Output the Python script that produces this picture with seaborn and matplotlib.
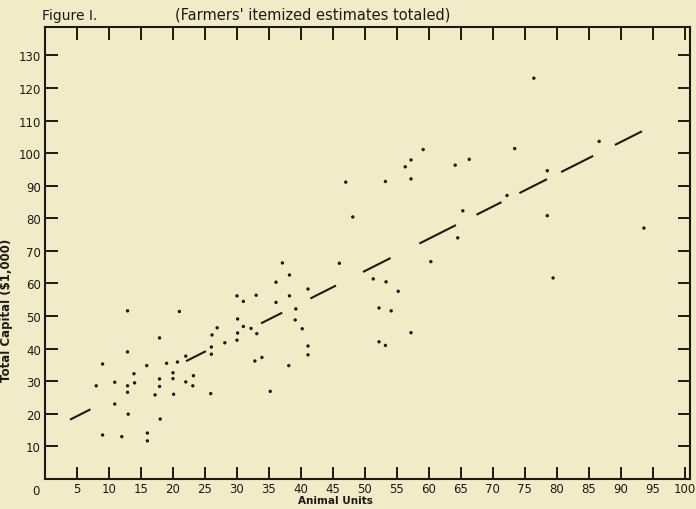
import numpy as np
import pandas as pd
import matplotlib
matplotlib.use("Agg")
import matplotlib.pyplot as plt
import seaborn as sns

"""
Figure 1 - total capital vs animal units
(values read off the scanned chart)
"""
animal_units = [
    8.0, 9.0, 9.0, 10.9, 10.9, 12.0, 12.9, 12.9, 12.9, 12.9,
    13.0, 13.9, 14.0, 15.9, 16.0, 16.0, 17.2, 17.9, 17.9, 17.9,
    18.0, 19.0, 20.0, 20.0, 20.1, 20.7, 21.0, 22.0, 22.0, 23.2,
    23.1, 25.9, 26.1, 26.0, 26.0, 26.9, 28.1, 30.0, 31.0, 33.0,
    30.1, 31.0, 32.2, 33.1, 30.1, 30.0, 32.8, 33.9, 35.2, 36.1,
    36.1, 37.1, 38.2, 38.2, 38.1, 39.2, 39.1, 40.2, 41.1, 41.1,
    41.1, 46.0, 47.0, 48.1, 51.3, 53.3, 55.2, 52.2, 54.1, 57.2,
    52.2, 53.2, 53.2, 56.3, 57.2, 57.2, 59.1, 60.3, 64.1, 66.3,
    73.4, 65.3, 64.5, 72.2, 78.5, 78.5, 79.4, 86.6, 93.6, 76.4,
]
total_capital = [
    28.6, 35.3, 13.5, 29.7, 23.0, 13.0, 51.6, 39.0, 28.6, 26.6,
    19.9, 32.3, 29.5, 34.8, 14.1, 11.7, 25.8, 43.3, 30.7, 28.4,
    18.4, 35.5, 32.6, 30.8, 26.0, 35.9, 51.4, 37.7, 29.8, 31.7,
    28.6, 26.2, 44.2, 40.5, 38.3, 46.4, 41.8, 56.2, 54.5, 56.4,
    49.1, 46.8, 46.2, 44.6, 44.8, 42.6, 36.2, 37.3, 26.9, 60.4,
    54.2, 66.3, 62.6, 56.2, 34.8, 52.2, 48.8, 46.1, 58.3, 40.8,
    38.1, 66.2, 91.1, 80.4, 61.4, 60.5, 57.6, 52.5, 51.6, 44.9,
    42.1, 41.0, 91.3, 95.8, 97.9, 92.1, 101.1, 66.7, 96.3, 98.1,
    101.4, 82.3, 74.0, 87.0, 94.6, 80.8, 61.7, 103.6, 77.0, 123.0,
]

# fitted line, as drawn (end points)
fit_x = [3.9, 93.3]
fit_y = [18.2, 106.7]

x_ticks = list(range(0, 101, 5))
y_ticks = list(range(10, 131, 10))

paper = "#f3ebc7"
ink = "#1c1a17"

sns.set_theme(style="ticks", rc={
    "figure.facecolor": paper,
    "axes.facecolor": paper,
    "axes.edgecolor": ink,
    "text.color": ink,
    "xtick.color": ink,
    "ytick.color": ink,
    "axes.labelcolor": ink,
})
plt.rcParams["font.family"] = ["DejaVu Sans"]
plt.rcParams["lines.scale_dashes"] = False

df = pd.DataFrame({"Animal Units": animal_units, "Total Capital": total_capital})

fig = plt.figure(figsize=(6.96, 5.10), dpi=100)
ax = fig.add_axes([45 / 696, 30 / 510, 645 / 696, 452 / 510])

sns.scatterplot(data=df, x="Animal Units", y="Total Capital", s=6,
                color=ink, edgecolor="none", ax=ax, legend=False)

# hand drawn dashes skip the point clouds, so pattern is uneven (x units -> pt)
unit = 5.17
dash_units = [3.2, 14.9, 3.1, 8.6, 3.3, 4.4, 4.0, 4.2, 4.3, 4.5,
              5.7, 3.2, 3.9, 2.8, 4.3, 2.2, 5.0, 3.4, 4.4, 10.0]
ax.plot(fit_x, fit_y, color=ink, lw=1.5, solid_capstyle="butt",
        dashes=[d * unit for d in dash_units])

ax.set_xlim(0, 100.8)
ax.set_ylim(0, 138.7)
ax.set_xticks(x_ticks)
ax.set_xticklabels([str(t) if t else "" for t in x_ticks])
ax.set_yticks(y_ticks)

for side in ["top", "right", "bottom", "left"]:
    ax.spines[side].set_visible(True)
    ax.spines[side].set_linewidth(1.5)

ax.tick_params(axis="x", which="both", direction="in", length=9, width=1.4,
               top=True, bottom=True, labelsize=8.5, pad=2)
ax.tick_params(axis="y", which="both", direction="in", length=9, width=1.4,
               left=True, right=True, labelsize=8.5, pad=3)

# the shared "0" at the corner
ax.text(-0.009, -0.012, "0", transform=ax.transAxes, ha="right", va="top",
        fontsize=8.5)

ax.set_xlabel("Animal Units", fontsize=7.5, fontweight="bold")
ax.xaxis.set_label_coords(0.45, -0.036)
ax.set_ylabel("Total Capital ($1,000)", fontsize=8.5, fontweight="bold")
ax.yaxis.set_label_coords(-0.05, 0.376)

fig.text(42 / 696, 1 - 16 / 510, "Figure I.", fontsize=10, va="center", ha="left")
fig.text(313 / 696, 1 - 15 / 510, "(Farmers' itemized estimates totaled)",
         fontsize=10.5, va="center", ha="center")

fig.savefig("out.png", dpi=100, facecolor=paper)
